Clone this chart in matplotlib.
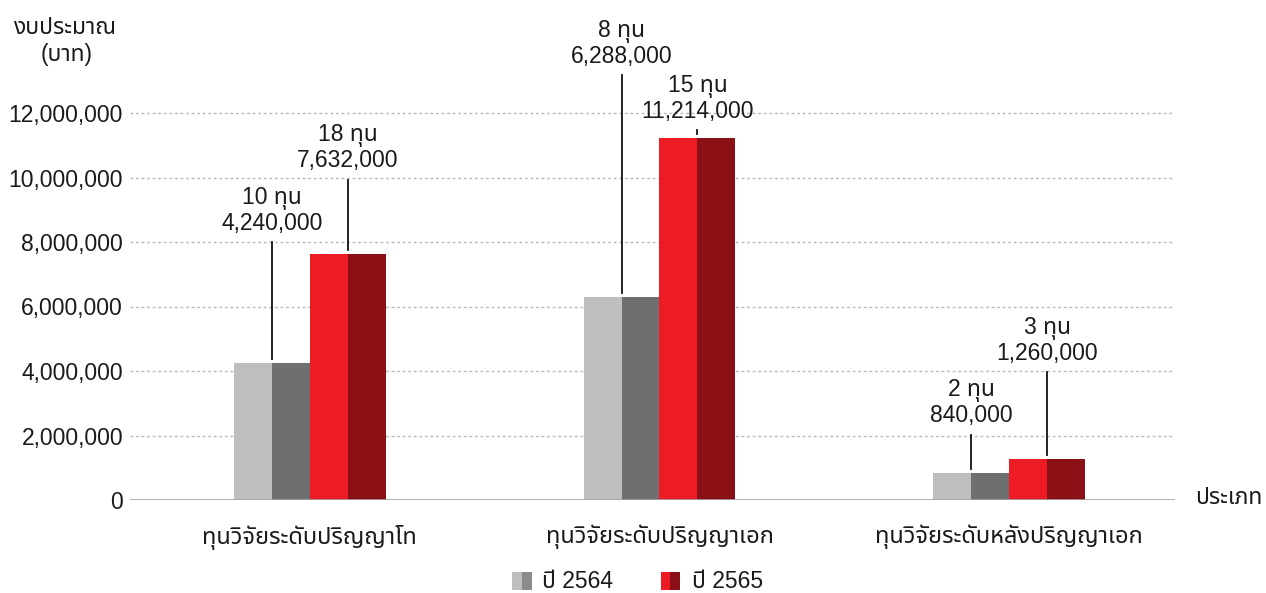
import matplotlib
matplotlib.use("Agg")
import matplotlib.pyplot as plt
from matplotlib.patches import Rectangle
from matplotlib.ticker import FuncFormatter

# ---------------- data ----------------
categories = ["ทุนวิจัยระดับปริญญาโท", "ทุนวิจัยระดับปริญญาเอก", "ทุนวิจัยระดับหลังปริญญาเอก"]
years = ["ปี 2564", "ปี 2565"]
budget_2564 = [4240000, 6288000, 840000]
budget_2565 = [7632000, 11214000, 1260000]
grants_2564 = [10, 8, 2]
grants_2565 = [18, 15, 3]
yticks = [0, 2000000, 4000000, 6000000, 8000000, 10000000, 12000000]

# ---------------- style ----------------
FONT = ["Liberation Sans", "Noto Sans Thai", "DejaVu Sans"]
plt.rcParams["font.family"] = FONT
FS = 16.5
TXT = "#1a1a1a"
gray_light, gray_dark = "#BCBEC0", "#6D6F71"
red_light, red_dark = "#ED1C24", "#8A1016"
legend_gray_dark = "#898B8D"

W, H = 1266, 593
fig = plt.figure(figsize=(W / 100, H / 100), dpi=100)
ax_left, ax_right, ax_bottom = 130, 1175, 500
ax = fig.add_axes([ax_left / W, (H - ax_bottom) / H, (ax_right - ax_left) / W, ax_bottom / H])

px_per_unit = 350.0
centers = list(range(len(categories)))
ax.set_xlim(-(310 - ax_left) / px_per_unit, 2 + (ax_right - 1009) / px_per_unit)
px_per_m = 32.25
ax.set_ylim(0, ax_bottom / px_per_m * 1e6)

hw = 38 / px_per_unit  # width of one half of a bar

for i, c in enumerate(centers):
    ax.bar(c - 2 * hw, budget_2564[i], width=hw, align="edge", color=gray_light, zorder=3)
    ax.bar(c - hw, budget_2564[i], width=hw, align="edge", color=gray_dark, zorder=3)
    ax.bar(c, budget_2565[i], width=hw, align="edge", color=red_light, zorder=3)
    ax.bar(c + hw, budget_2565[i], width=hw, align="edge", color=red_dark, zorder=3)

# gridlines
for t in yticks[1:]:
    ax.axhline(t, color="#b8b8b8", lw=1.0, ls=(0, (2, 2)), zorder=1)
ax.axhline(0, color="#a3a3a3", lw=1.2, zorder=4)

ax.set_yticks(yticks)
ax.yaxis.set_major_formatter(FuncFormatter(lambda v, p: f"{int(v):,}"))
ax.tick_params(axis="y", length=0, pad=5, labelsize=FS, labelcolor=TXT)
ax.set_xticks([])
for s in ax.spines.values():
    s.set_visible(False)

# value labels with leader lines (offsets in pixels above bar top)
num_offsets_2564 = [140, 241, 57]
num_offsets_2565 = [93, 27, 106]
line_gap = 25


def annotate(x, val, n, off):
    tr = ax.transData
    x_px, y_px = tr.transform((x, val))
    y0 = y_px + 4
    y1 = y_px + off - 19
    inv = tr.inverted()
    _, v0 = inv.transform((x_px, y0))
    _, v1 = inv.transform((x_px, y1))
    ax.plot([x, x], [v0, v1], color="#111111", lw=1.3, zorder=5, clip_on=False)
    ax.annotate(f"{val:,}", xy=(x, val), xytext=(0, off), textcoords="offset pixels",
                ha="center", va="center", fontsize=FS, color=TXT, annotation_clip=False)
    ax.annotate(f"{n} ทุน", xy=(x, val), xytext=(0, off + line_gap), textcoords="offset pixels",
                ha="center", va="center", fontsize=FS, color=TXT, annotation_clip=False)


for i, c in enumerate(centers):
    annotate(c - hw, budget_2564[i], grants_2564[i], num_offsets_2564[i])
    annotate(c + hw, budget_2565[i], grants_2565[i], num_offsets_2565[i])

# category labels
for i, c in enumerate(centers):
    ax.annotate(categories[i], xy=(c, 0), xytext=(0, -37), textcoords="offset pixels",
                ha="center", va="center", fontsize=FS + 0.5, color=TXT, annotation_clip=False)

# axis titles
fig.text(65 / W, 1 - 27 / H, "งบประมาณ", ha="center", va="center", fontsize=FS, color=TXT)
fig.text(67 / W, 1 - 55 / H, "(บาท)", ha="center", va="center", fontsize=FS, color=TXT)
fig.text(1195 / W, 1 - 498 / H, "ประเภท", ha="left", va="center", fontsize=FS, color=TXT)

# legend
leg = [((512, 522, 532), (gray_light, legend_gray_dark), 542, years[0]),
       ((661, 670, 680), (red_light, red_dark), 692, years[1])]
for (x0, xm, x1), (ca, cb), tx, lab in leg:
    fig.add_artist(Rectangle((x0 / W, 1 - 590 / H), (xm - x0) / W, 18 / H,
                             transform=fig.transFigure, color=ca, lw=0))
    fig.add_artist(Rectangle((xm / W, 1 - 590 / H), (x1 - xm) / W, 18 / H,
                             transform=fig.transFigure, color=cb, lw=0))
    fig.text(tx / W, 1 - 582 / H, lab, ha="left", va="center", fontsize=FS, color=TXT)

fig.savefig("out.png", dpi=100)
